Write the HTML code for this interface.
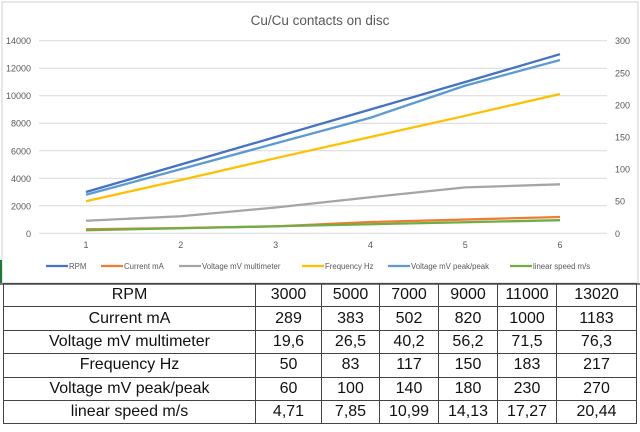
<!DOCTYPE html>
<html><head><meta charset="utf-8"><style>
body{margin:0;width:640px;height:432px;background:#fff;overflow:hidden;font-family:"Liberation Sans",sans-serif;position:relative}
svg{position:absolute;left:0;top:0}
table{position:absolute;left:3px;top:283px;border-collapse:collapse;font-size:16px;color:#111}
td{border:1.5px solid #444;height:22.4px;padding:0;text-align:center}
</style></head><body>
<svg width="640" height="286" id="chart">
<rect x="2" y="2" width="636" height="281" fill="#fff" stroke="#d0d0d0"/>
<line x1="0" y1="284" x2="640" y2="284" stroke="#777" stroke-width="2"/>
<line x1="1" y1="260" x2="1" y2="283" stroke="#1e7a3a" stroke-width="2"/>
<text x="320" y="25" text-anchor="middle" font-size="13.5" fill="#595959">Cu/Cu contacts on disc</text>
<g id="grid"></g><g id="series"></g><g id="legend"></g>
</svg>
<table>
<colgroup><col style="width:252px"><col style="width:66px"><col style="width:58px"><col style="width:59px"><col style="width:59px"><col style="width:59px"><col style="width:80px"></colgroup>
<tbody id="tb"></tbody></table>
<script>
const categories=[1,2,3,4,5,6];
const rpm=[3000,5000,7000,9000,11000,13020];
const currentMA=[289,383,502,820,1000,1183];
const voltMulti=[19.6,26.5,40.2,56.2,71.5,76.3];
const freqHz=[50,83,117,150,183,217];
const voltPP=[60,100,140,180,230,270];
const linSpeed=[4.71,7.85,10.99,14.13,17.27,20.44];
const leftTicks=[0,2000,4000,6000,8000,10000,12000,14000];
const rightTicks=[0,50,100,150,200,250,300];
const tableRows=[["RPM",rpm],["Current mA",currentMA],["Voltage mV multimeter",voltMulti],["Frequency Hz",freqHz],["Voltage  mV peak/peak",voltPP],["linear speed m/s",linSpeed]];

const NS="http://www.w3.org/2000/svg";
const Y0=233.3,Y1=40.7,X0=86,X1=560;
const xS=i=>X0+(i-1)*(X1-X0)/5;
const yL=v=>Y0-(v/14000)*(Y0-Y1);
const yR=v=>Y0-(v/300)*(Y0-Y1);
function mk(t,a,p){const e=document.createElementNS(NS,t);for(const k in a)e.setAttribute(k,a[k]);p.appendChild(e);return e;}
const grid=document.getElementById('grid');
leftTicks.forEach(v=>{
  const l=mk('line',{x1:39,x2:607,y1:yL(v),y2:yL(v),stroke:'#d9d9d9','stroke-width':1},grid);
  
  
  const t=mk('text',{x:31,y:yL(v)+3.5,'text-anchor':'end','font-size':9,fill:'#595959'},grid);
  t.textContent=v;
  
  
});
rightTicks.forEach(v=>{
  const t=mk('text',{x:615,y:yR(v)+3.5,'font-size':9,fill:'#595959'},grid);
  t.textContent=v;
  
  
});
categories.forEach(c=>{
  const t=mk('text',{x:xS(c),y:248,'text-anchor':'middle','font-size':9,fill:'#595959'},grid);
  t.textContent=c;
  
  
});
const series=[
 ["RPM",rpm,'#4472c4',yL,'rpm-line'],
 ["Current mA",currentMA,'#ed7d31',yL,'current-line'],
 ["Voltage mV multimeter",voltMulti,'#a5a5a5',yR,'voltage-multimeter-line'],
 ["Frequency Hz",freqHz,'#ffc000',yR,'frequency-line'],
 ["Voltage  mV peak/peak",voltPP,'#5b9bd5',yR,'voltage-peak-line'],
 ["linear speed m/s",linSpeed,'#70ad47',yR,'linear-speed-line']];
const sg=document.getElementById('series');
series.forEach(s=>{
  const pts=s[1].map((v,i)=>xS(categories[i])+','+s[3](v)).join(' ');
  const p=mk('polyline',{points:pts,fill:'none',stroke:s[2],'stroke-width':2.3,'stroke-linejoin':'round'},sg);
  
  
});
const lg=document.getElementById('legend');
const lx=[46,101,179,302,388,510];
series.forEach((s,i)=>{
  const g=mk('g',{},lg);
  
  
  mk('line',{x1:lx[i],x2:lx[i]+22,y1:266,y2:266,stroke:s[2],'stroke-width':2.3},g);
  const t=mk('text',{x:lx[i]+23,y:269,'font-size':7.8,fill:'#595959'},g);
  t.textContent=s[0];
});
const tb=document.getElementById('tb');
tableRows.forEach(r=>{
  const tr=document.createElement('tr');
  
  
  const th=document.createElement('td');th.textContent=r[0];tr.appendChild(th);
  r[1].forEach(v=>{const td=document.createElement('td');td.textContent=String(v).replace('.',',');tr.appendChild(td);});
  tb.appendChild(tr);
});
</script>
</body></html>
